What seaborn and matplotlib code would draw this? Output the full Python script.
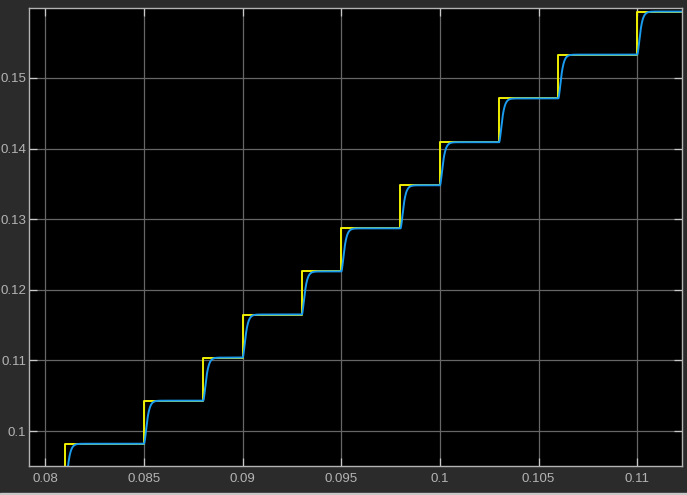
import numpy as np
import pandas as pd
import matplotlib
matplotlib.use("Agg")
import matplotlib.pyplot as plt
import seaborn as sns

# step reference (yellow)
step_times = [0.081, 0.085, 0.088, 0.090, 0.093, 0.095, 0.098, 0.100, 0.103, 0.106, 0.110]
step_levels = [0.0982, 0.1043, 0.1104, 0.1165, 0.1226, 0.1287, 0.1348, 0.1409, 0.1471, 0.1533, 0.1594]
start_level = 0.0921
t_start, t_end = 0.0790, 0.1125
# filtered output (blue) settles in ~0.0006 s after each step
tau = 0.00009

x_ticks = [0.08, 0.085, 0.09, 0.095, 0.1, 0.105, 0.11]
x_ticklabels = ["0.08", "0.085", "0.09", "0.095", "0.1", "0.105", "0.11"]
y_ticks = [0.10, 0.11, 0.12, 0.13, 0.14, 0.15]
y_ticklabels = ["0.1", "0.11", "0.12", "0.13", "0.14", "0.15"]

# yellow: step signal
ref = pd.DataFrame({
    "t": [t_start] + step_times + [t_end],
    "y": [start_level] + step_levels + [step_levels[-1]],
})

# blue: critically damped 2nd order response to the same steps
t = np.linspace(t_start, t_end, 6000)
out = np.full_like(t, start_level)
prev = start_level
for ts, lv in zip(step_times, step_levels):
    dt = np.clip(t - ts, 0, None) / tau
    out += (lv - prev) * (1 - (1 + dt) * np.exp(-dt)) * (t >= ts)
    prev = lv
resp = pd.DataFrame({"t": t, "y": out})

sns.set_style("dark", rc={
    "axes.facecolor": "black",
    "figure.facecolor": "#2b2b2b",
    "axes.edgecolor": "#b4b4b4",
    "grid.color": "#5e5e5e",
})
plt.rcParams["font.family"] = ["Liberation Sans", "DejaVu Sans"]

fig = plt.figure(figsize=(6.87, 4.95), dpi=100)
ax = fig.add_axes([0.0422, 0.0586, 0.9505, 0.9252])

sns.lineplot(data=ref, x="t", y="y", ax=ax, color="#f0f000", linewidth=1.4,
             drawstyle="steps-post", estimator=None)
sns.lineplot(data=resp, x="t", y="y", ax=ax, color="#1a9cf0", linewidth=1.4,
             estimator=None)

ax.set_xlim(0.07917, 0.11227)
ax.set_ylim(0.09505, 0.1599)
ax.set_xticks(x_ticks, x_ticklabels)
ax.set_yticks(y_ticks, y_ticklabels)
ax.set_xlabel("")
ax.set_ylabel("")
ax.grid(True, color="#666666", linewidth=0.9)
ax.tick_params(axis="both", direction="in", length=6, width=0.9,
               color="#c8c8c8", labelcolor="#b4b4b4", labelsize=9.5,
               top=True, right=True, bottom=True, left=True)
ax.tick_params(axis="x", pad=5)
ax.tick_params(axis="y", pad=2)
for s in ax.spines.values():
    s.set_visible(True)
    s.set_color("#b4b4b4")
    s.set_linewidth(1.0)

# light strip along the bottom of the scope window
fig.patches.append(plt.Rectangle((0, 0), 1, 2 / 495, transform=fig.transFigure,
                                 color="#c8c8c8", zorder=0))

fig.savefig("out.png", dpi=100, facecolor=fig.get_facecolor())
